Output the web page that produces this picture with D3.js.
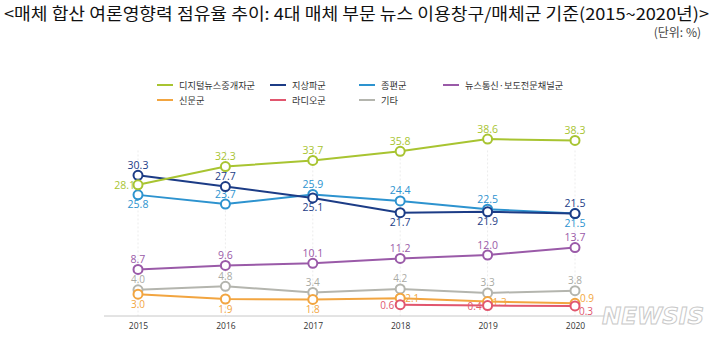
<!DOCTYPE html>
<html>
<head>
<meta charset="utf-8">
<script src="https://cdn.jsdelivr.net/npm/d3@7"></script>
<style>
  body { margin: 0; background: #fff; }
  svg { display: block; }
</style>
</head>
<body>
<div id="main_svg"></div>
<script>
// data
var years = ["2015", "2016", "2017", "2018", "2019", "2020"];
var seriesNames = ["디지털뉴스중개자군", "지상파군", "종편군", "뉴스통신·보도전문채널군", "신문군", "라디오군", "기타"];
var digital = [28.1, 32.3, 33.7, 35.8, 38.6, 38.3];
var terrestrial = [30.3, 27.7, 25.1, 21.7, 21.9, 21.5];
var cable = [25.8, 23.7, 25.9, 24.4, 22.5, 21.5];
var newsAgency = [8.7, 9.6, 10.1, 11.2, 12.0, 13.7];
var newspaper = [3.0, 1.9, 1.8, 2.1, 1.3, 0.9];
var radio = [null, null, null, 0.6, 0.4, 0.3];
var etc = [4.0, 4.8, 3.4, 4.2, 3.3, 3.8];

var colors = ["#a8c431", "#1c3c86", "#2d93cf", "#9a5aa8", "#f2a540", "#e1566e", "#b4b5ae"];
// where each value label sits: t = top, b = bottom, l = left, r = right
var labelSide = [
    ["l", "t", "t", "t", "t", "t"],
    ["t", "t", "b", "b", "b", "t"],
    ["b", "t", "t", "t", "t", "b"],
    ["t", "t", "t", "t", "t", "t"],
    ["b", "b", "b", "r", "r", "tr"],
    ["", "", "", "l", "l", "br"],
    ["t", "t", "t", "t", "t", "t"]
];
var allSeries = [digital, terrestrial, cable, newsAgency, newspaper, radio, etc];

var W = 720, H = 341;
var svg = d3.select("#main_svg").append("svg")
    .attr("width", W)
    .attr("height", H);

// title
svg.append("text")
    .attr("x", 4).attr("y", 20)
    .attr("font-family", "Noto Sans CJK KR")
    .attr("font-size", 16.5)
    .attr("textLength", 705)
    .attr("lengthAdjust", "spacingAndGlyphs")
    .attr("fill", "#111")
    .text("<매체 합산 여론영향력 점유율 추이: 4대 매체 부문 뉴스 이용창구/매체군 기준(2015~2020년)>");
svg.append("text")
    .attr("x", 701).attr("y", 37)
    .attr("text-anchor", "end")
    .attr("font-family", "Noto Sans CJK KR")
    .attr("font-size", 12)
    .attr("fill", "#444")
    .text("(단위: %)");

// scales
var x = d3.scalePoint().domain(years).range([138, 575]);
var y = d3.scaleLinear().domain([-2, 40]).range([316, 133]);

// vertical guides
svg.selectAll(".guide")
    .data(years)
    .enter().append("line")
    .attr("x1", function (d) { return x(d); })
    .attr("x2", function (d) { return x(d); })
    .attr("y1", y(36))
    .attr("y2", y(-2))
    .attr("stroke", "#ececec")
    .attr("stroke-dasharray", "2,2");

// x axis
var xAxis = svg.append("g")
    .attr("transform", "translate(0," + y(-2) + ")")
    .call(d3.axisBottom(x).tickSize(0).tickPadding(7));
xAxis.select(".domain").remove();
svg.append("line")
    .attr("x1", 104).attr("x2", 610)
    .attr("y1", y(-2)).attr("y2", y(-2))
    .attr("stroke", "#c8c8c8");
xAxis.selectAll("text")
    .attr("font-family", "Open Sans")
    .attr("font-size", 8.5)
    .attr("fill", "#333");

// legend
var legendPos = [[157, 85], [270, 85], [359, 85], [443, 85], [157, 100], [270, 100], [359, 100]];
var legend = svg.selectAll(".leg")
    .data(seriesNames)
    .enter().append("g")
    .attr("transform", function (d, i) { return "translate(" + legendPos[i][0] + "," + legendPos[i][1] + ")"; });
legend.append("line")
    .attr("x1", 0).attr("x2", 16)
    .attr("stroke", function (d, i) { return colors[i]; })
    .attr("stroke-width", 2);
legend.append("text")
    .attr("x", 22).attr("y", 3.5)
    .attr("font-family", "Noto Sans CJK KR")
    .attr("font-size", 9.2)
    .attr("fill", "#333")
    .text(function (d) { return d; });

// lines, markers and labels
var line = d3.line()
    .defined(function (d) { return d != null; })
    .x(function (d, i) { return x(years[i]); })
    .y(function (d) { return y(d); });

var order = [6, 4, 5, 3, 2, 1, 0];
order.forEach(function (s) {
    var vals = allSeries[s];
    var g = svg.append("g");
    g.append("path")
        .datum(vals)
        .attr("fill", "none")
        .attr("stroke", colors[s])
        .attr("stroke-width", 2)
        .attr("d", line);
    var pts = vals.map(function (v, i) { return {v: v, i: i}; })
        .filter(function (d) { return d.v != null; });
    g.selectAll("circle")
        .data(pts)
        .enter().append("circle")
        .attr("cx", function (d) { return x(years[d.i]); })
        .attr("cy", function (d) { return y(d.v); })
        .attr("r", 4.5)
        .attr("fill", "#fff")
        .attr("stroke", colors[s])
        .attr("stroke-width", 2);
    g.selectAll("text")
        .data(pts)
        .enter().append("text")
        .attr("x", function (d) {
            var side = labelSide[s][d.i], cx = x(years[d.i]);
            if (side == "l") return s == 0 ? cx - 3 : cx - 6;
            if (side == "r" || side == "tr") return cx + 5;
            if (side == "br") return cx + 4;
            return cx;
        })
        .attr("y", function (d) {
            var side = labelSide[s][d.i], cy = y(d.v);
            if (side == "t") return cy - 6.5;
            if (side == "b") return cy + 13.5;
            if (side == "br") return cy + 9;
            if (side == "tr") return cy - 1;
            return cy + 4;
        })
        .attr("text-anchor", function (d) {
            var side = labelSide[s][d.i];
            if (side == "l") return "end";
            if (side == "r" || side == "br" || side == "tr") return "start";
            return "middle";
        })
        .attr("font-family", "Open Sans")
        .attr("font-size", s >= 4 ? 10 : 10.5)
        .attr("fill", colors[s] == "#b4b5ae" ? "#a9aaa3" : colors[s])
        .text(function (d) { return d.v.toFixed(1); });
});

// watermark
svg.append("text")
    .attr("x", 704).attr("y", 324)
    .attr("text-anchor", "end")
    .attr("font-family", "DejaVu Sans")
    .attr("font-weight", "bold")
    .attr("font-style", "italic")
    .attr("font-size", 23)
    .attr("fill", "#fff")
    .attr("fill-opacity", 0.85)
    .attr("stroke", "#c9c9c9")
    .attr("stroke-width", 1)
    .text("NEWSIS");
</script>
</body>
</html>
